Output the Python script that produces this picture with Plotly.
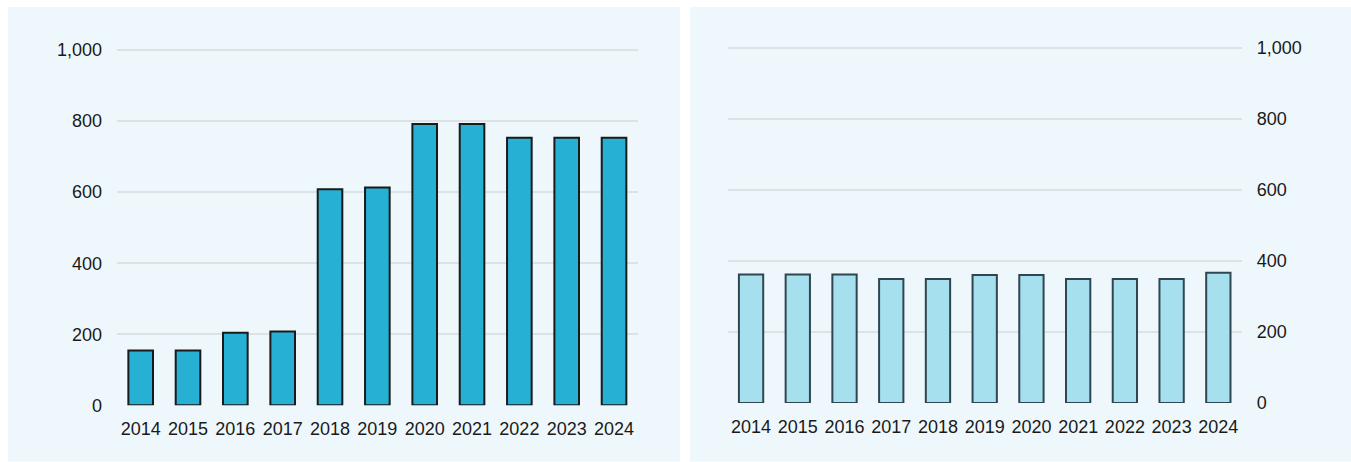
import plotly.graph_objects as go

years = ["2014", "2015", "2016", "2017", "2018", "2019", "2020", "2021", "2022", "2023", "2024"]
left_values = [154, 154, 204, 208, 608, 613, 792, 792, 753, 753, 753]
right_values = [362, 362, 362, 349, 349, 360, 360, 349, 349, 349, 367]
y_ticks = [0, 200, 400, 600, 800, 1000]
y_tick_labels = ["0", "200", "400", "600", "800", "1,000"]

# the photographed page comes out vertically compressed by about S,
# so vertical positions are laid out in page pixels = target / S
S = 0.978
W = 1351
H = round(462 / S)
PANEL_BG = "#EEF8FC"
GRID = "#DCE3E6"
FONT = dict(family="Liberation Sans, Arial, sans-serif", size=18, color="#1a1a1a")

fig = go.Figure()
fig.add_trace(go.Bar(x=years, y=left_values, xaxis="x", yaxis="y",
                     marker=dict(color="#25B0D4", line=dict(color="#1a1a1a", width=2)),
                     width=0.52, showlegend=False))
fig.add_trace(go.Bar(x=years, y=right_values, xaxis="x2", yaxis="y2",
                     marker=dict(color="#A6E0EE", line=dict(color="#2F4550", width=2)),
                     width=0.52, showlegend=False))

def px_x(v):
    return v / W

def px_y(v):
    return (H - v / S) / H

ppu = 0.355
ymax = 1050
l0, r0 = 405, 402.7

fig.update_layout(
    width=W, height=H,
    margin=dict(l=0, r=0, t=0, b=0),
    paper_bgcolor="#ffffff",
    plot_bgcolor="rgba(0,0,0,0)",
    font=FONT,
    xaxis=dict(domain=[px_x(117), px_x(637.7)], anchor="y", showgrid=False,
               showline=False, zeroline=False, ticks="", tickfont=FONT,
               ticklabelstandoff=11),
    yaxis=dict(domain=[px_y(l0), px_y(l0 - ymax * ppu)], anchor="x",
               range=[0, ymax], tickvals=y_ticks, ticktext=y_tick_labels,
               showgrid=True, gridcolor=GRID, gridwidth=2, zeroline=False,
               showline=False, ticks="", tickfont=FONT, ticklabelstandoff=14),
    xaxis2=dict(domain=[px_x(727.7), px_x(1241.7)], anchor="y2", showgrid=False,
                showline=False, zeroline=False, ticks="", tickfont=FONT,
                ticklabelstandoff=11),
    yaxis2=dict(domain=[px_y(r0), px_y(r0 - ymax * ppu)], anchor="x2", side="right",
                range=[0, ymax], tickvals=y_ticks, ticktext=y_tick_labels,
                showgrid=True, gridcolor=GRID, gridwidth=2, zeroline=False,
                showline=False, ticks="", tickfont=FONT, ticklabelstandoff=14),
    shapes=[
        dict(type="rect", xref="paper", yref="paper", layer="below",
             x0=px_x(8), x1=px_x(680), y0=px_y(461), y1=px_y(7),
             fillcolor=PANEL_BG, line=dict(width=0)),
        dict(type="rect", xref="paper", yref="paper", layer="below",
             x0=px_x(690), x1=1, y0=px_y(461), y1=px_y(7),
             fillcolor=PANEL_BG, line=dict(width=0)),
    ],
)

css = ("var s=document.createElement('style');"
       "s.innerHTML='html,body{margin:0;padding:0;overflow:hidden;background:#ffffff;}';"
       "document.head.appendChild(s);")
fig.write_html("out.html", post_script=css, config={"displayModeBar": False})
